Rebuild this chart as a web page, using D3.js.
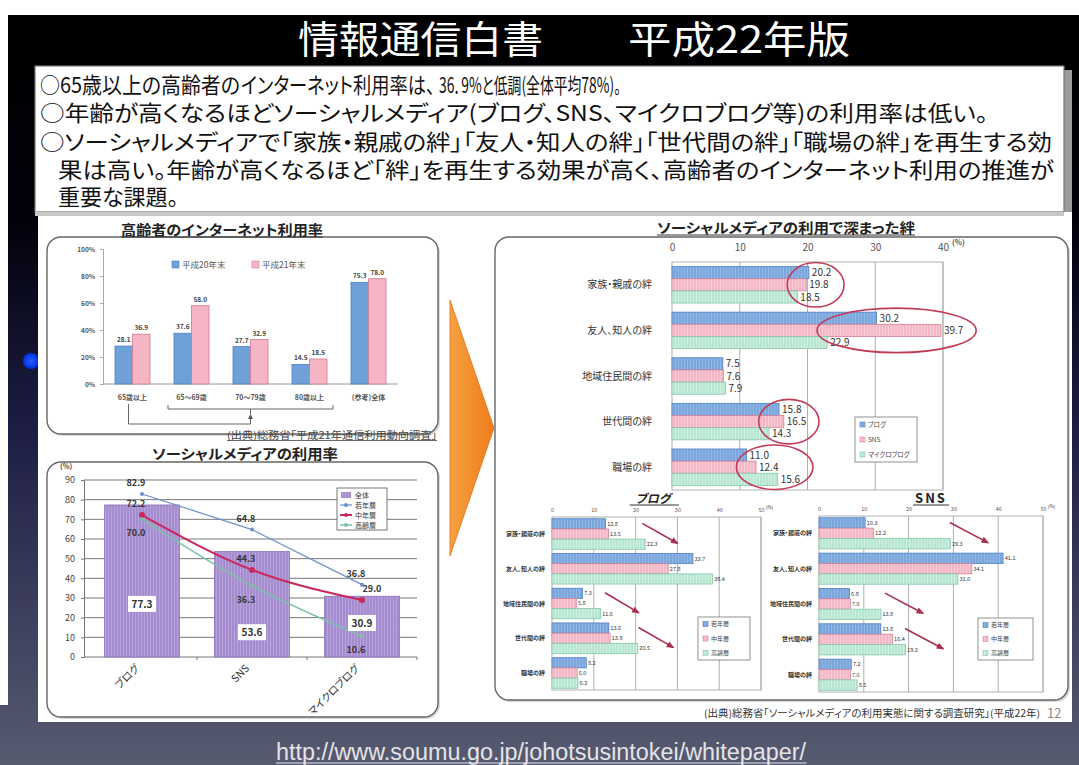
<!DOCTYPE html>
<html><head><meta charset="utf-8">
<script src="https://cdn.jsdelivr.net/npm/d3@7/dist/d3.min.js"></script>
<style>
html,body{margin:0;padding:0;background:#fff;overflow:hidden;}
svg{display:block;}
text{font-family:"Noto Sans CJK JP","Noto Sans",sans-serif;font-feature-settings:"palt";}
</style></head><body>
<svg id="chart" width="1079" height="765"></svg>
<script>
// ---------------- data ----------------
const ageGroups = ["65歳以上", "65〜69歳", "70〜79歳", "80歳以上", "(参考)全体"];
const netSeries = ["平成20年末", "平成21年末"];
const netH20 = [28.1, 37.6, 27.7, 14.5, 75.3];
const netH21 = [36.9, 58.0, 32.9, 18.5, 78.0];
const netTicks = [0, 20, 40, 60, 80, 100];

const mediaTypes = ["ブログ", "SNS", "マイクロブログ"];
const mediaSeries = ["全体", "若年層", "中年層", "高齢層"];
const mediaAll = [77.3, 53.6, 30.9];
const mediaYoung = [82.9, 64.8, 36.8];
const mediaMiddle = [72.2, 44.3, 29.0];
const mediaSenior = [70.0, 36.3, 10.6];
const mediaTicks = [0, 10, 20, 30, 40, 50, 60, 70, 80, 90];

const bondCats = ["家族・親戚の絆", "友人、知人の絆", "地域住民間の絆", "世代間の絆", "職場の絆"];
const bondSeries = ["ブログ", "SNS", "マイクロブログ"];
const bondBlog = [20.2, 30.2, 7.5, 15.8, 11.0];
const bondSNS = [19.8, 39.7, 7.6, 16.5, 12.4];
const bondMicro = [18.5, 22.9, 7.9, 14.3, 15.6];
const bondTicks = [0, 10, 20, 30, 40];

const ageSeries = ["若年層", "中年層", "高齢層"];
const blogYoung = [12.8, 33.7, 7.3, 13.6, 8.2];
const blogMiddle = [13.5, 27.8, 5.8, 13.9, 6.0];
const blogSenior = [22.3, 38.4, 11.6, 20.5, 6.2];
const snsYoung = [10.3, 41.1, 6.8, 13.8, 7.2];
const snsMiddle = [12.2, 34.1, 7.0, 16.4, 7.0];
const snsSenior = [29.3, 31.0, 13.8, 19.3, 8.5];
const subTicks = [0, 10, 20, 30, 40, 50];

// annotation: categories circled in the main chart, arrows in sub charts (data units)
const circledCats = ["家族・親戚の絆", "友人、知人の絆", "世代間の絆", "職場の絆"];
const blogArrows = [["家族・親戚の絆", 21.6, 30], ["地域住民間の絆", 12.7, 20.7], ["世代間の絆", 20.7, 29]];
const snsArrows = [["家族・親戚の絆", 29.2, 37.7], ["地域住民間の絆", 14.7, 23.2], ["世代間の絆", 19.2, 27.7]];
const mediaAllLabelAt = [27, 12.6, 17.3];

// ---------------- helpers ----------------
const FONT = '"Noto Sans CJK JP","Noto Sans",sans-serif';
const svg = d3.select("#chart");
const defs = svg.append("defs");
const fmt = d3.format(".1f");

function txt(p, x, y, s, o = {}) {
  const t = p.append("text").attr("x", x).attr("y", y).text(s);
  for (const k in o) t.attr(k, o[k]);
  return t;
}
function uline(p, t, dy, color, w, ext = 0) {
  const b = t.node().getBBox();
  p.append("line").attr("x1", b.x - ext).attr("x2", b.x + b.width + ext)
    .attr("y1", +t.attr("y") + dy).attr("y2", +t.attr("y") + dy)
    .attr("stroke", color).attr("stroke-width", w);
}
function stripe(id, base, line) {
  const p = defs.append("pattern").attr("id", id).attr("width", 3).attr("height", 10)
    .attr("patternUnits", "userSpaceOnUse");
  p.append("rect").attr("width", 3).attr("height", 10).attr("fill", base);
  p.append("rect").attr("width", 1).attr("height", 10).attr("fill", line);
}
stripe("pBlue", "#7aa6dc", "#92b8e6");
stripe("pPink", "#f4b7c5", "#f9cdd7");
stripe("pGreen", "#b7e6d2", "#d0f0e2");
stripe("pPurple", "#a58cce", "#b8a2dc");

// ---------------- slide background ----------------
const bg = defs.append("linearGradient").attr("id", "bg").attr("x1", 0).attr("y1", 0).attr("x2", 0).attr("y2", 1);
[[0, "#000000"], [0.28, "#02020c"], [0.55, "#1d1d44"], [1, "#575b70"]].forEach(([o, c]) =>
  bg.append("stop").attr("offset", o).attr("stop-color", c));
svg.append("rect").attr("width", 1079).attr("height", 765).attr("fill", "#fff");
svg.append("rect").attr("x", 0).attr("y", 15).attr("width", 1079).attr("height", 750).attr("fill", "url(#bg)");
svg.append("rect").attr("x", 0).attr("y", 15).attr("width", 8).attr("height", 690).attr("fill", "#fff");

// blue dot
const dotG = defs.append("radialGradient").attr("id", "dotg");
dotG.append("stop").attr("offset", 0).attr("stop-color", "#2a5cff");
dotG.append("stop").attr("offset", 1).attr("stop-color", "#0030e0");
svg.append("circle").attr("cx", 31).attr("cy", 361).attr("r", 8).attr("fill", "url(#dotg)");

// title
txt(svg, 298, 53, "情報通信白書", { "font-size": 38, fill: "#fff", textLength: 245, lengthAdjust: "spacingAndGlyphs" });
txt(svg, 628, 53, "平成22年版", { "font-size": 38, fill: "#fff", textLength: 222, lengthAdjust: "spacingAndGlyphs" });

// text box
svg.append("rect").attr("x", 41).attr("y", 70).attr("width", 1031).attr("height", 146).attr("fill", "#9a9a9a");
svg.append("rect").attr("x", 35).attr("y", 66).attr("width", 1029).attr("height", 146).attr("fill", "#fff")
  .attr("stroke", "#777").attr("stroke-width", 1.2);
// line 1 in runs (the original font sets digits and punctuation narrowly)
const line1Runs = [
  [40, "○65歳以上の高齢者の", 200, 22],
  [241, "インターネット利用率は、", 194, 22],
  [439, "36．9%と低調(全体平均78%)。", 182, 21]
];
line1Runs.forEach(([x, s, L, fs]) =>
  txt(svg, x, 93, s, { "font-size": fs, fill: "#111", textLength: L, lengthAdjust: "spacingAndGlyphs" }));
const boxLines = [
  [40, 121, "○年齢が高くなるほどソーシャルメディア(ブログ、SNS、マイクロブログ等)の利用率は低い。", 948],
  [40, 150, "○ソーシャルメディアで「家族・親戚の絆」「友人・知人の絆」「世代間の絆」「職場の絆」を再生する効", 1012],
  [58, 178, "果は高い。年齢が高くなるほど「絆」を再生する効果が高く、高齢者のインターネット利用の推進が", 996],
  [58, 205, "重要な課題。", null]
];
boxLines.forEach(([x, y, s, L]) => {
  const o = { "font-size": 22, fill: "#111" };
  if (L) { o.textLength = L; o.lengthAdjust = "spacingAndGlyphs"; }
  txt(svg, x, y, s, o);
});

// white picture area
svg.append("rect").attr("x", 38).attr("y", 212).attr("width", 1034).attr("height", 510).attr("fill", "#fff");
svg.append("rect").attr("x", 35).attr("y", 212).attr("width", 1029).attr("height", 4).attr("fill", "#c8c8c8");

// orange arrow
const og = defs.append("linearGradient").attr("id", "og").attr("x1", 0).attr("y1", 0).attr("x2", 1).attr("y2", 0);
og.append("stop").attr("offset", 0).attr("stop-color", "#f7a040");
og.append("stop").attr("offset", 1).attr("stop-color", "#ee7c1c");
svg.append("path").attr("d", "M450,300 L494,428 L450,556 Z").attr("fill", "url(#og)").attr("stroke", "#e07018").attr("stroke-width", 0.8);

// ---------------- chart boxes ----------------
function box(x, y, w, h) {
  svg.append("rect").attr("x", x + 2).attr("y", y + 2).attr("width", w).attr("height", h).attr("rx", 14)
    .attr("fill", "#d8d8d8");
  svg.append("rect").attr("x", x).attr("y", y).attr("width", w).attr("height", h).attr("rx", 14)
    .attr("fill", "#fff").attr("stroke", "#666").attr("stroke-width", 1.4);
}
box(47, 237, 391, 197);
box(47, 462, 391, 255);
box(495, 237, 573, 463);

// ---------------- chart 1: internet usage ----------------
{
  const g = svg.append("g");
  const t = txt(g, 222, 235, "高齢者のインターネット利用率", { "font-size": 14, "font-weight": "bold", fill: "#222", "text-anchor": "middle", textLength: 202, lengthAdjust: "spacingAndGlyphs" });
  uline(svg, t, 2, "#333", 1);
  const x = d3.scaleBand().domain(ageGroups).range([103, 398]);
  const xs = d3.scaleBand().domain([0, 1]).range([0, 35]);
  const y = d3.scaleLinear().domain([0, 100]).range([384, 249]);
  const ay = g.append("g").attr("transform", "translate(103,0)")
    .call(d3.axisLeft(y).tickValues(netTicks).tickFormat(d => d + "%").tickSize(3).tickPadding(5));
  ay.select(".domain").attr("stroke", "#aaa");
  ay.selectAll("line").attr("stroke", "#aaa");
  ay.selectAll("text").attr("font-family", FONT).attr("font-size", 6.5).attr("font-weight", "bold").attr("fill", "#555");
  g.append("line").attr("x1", 103).attr("x2", 398).attr("y1", y(0)).attr("y2", y(0)).attr("stroke", "#999");
  const series = [netH20, netH21];
  const fills = ["#6fa1d8", "#f5b5c5"];
  const strokes = ["#4c7fc2", "#d27b93"];
  series.forEach((vals, i) => {
    g.selectAll(null).data(ageGroups).join("rect")
      .attr("x", c => x(c) + x.bandwidth() / 2 - 17.5 + xs(i))
      .attr("y", (c, j) => y(vals[j]))
      .attr("width", xs.bandwidth())
      .attr("height", (c, j) => y(0) - y(vals[j]))
      .attr("fill", fills[i]).attr("stroke", strokes[i]).attr("stroke-width", 0.8);
    g.selectAll(null).data(ageGroups).join("text")
      .attr("x", c => x(c) + x.bandwidth() / 2 - 17.5 + xs(i) + xs.bandwidth() / 2)
      .attr("y", (c, j) => y(vals[j]) - 4)
      .attr("text-anchor", "middle").attr("font-size", 6.5).attr("font-weight", "bold").attr("fill", "#444")
      .text((c, j) => fmt(vals[j]));
  });
  g.selectAll(null).data(ageGroups).join("text")
    .attr("x", c => x(c) + x.bandwidth() / 2).attr("y", 400)
    .attr("text-anchor", "middle").attr("font-size", 7).attr("font-weight", "bold").attr("fill", "#555")
    .text(c => c);
  // legend
  netSeries.forEach((s, i) => {
    const lx = 172 + i * 80;
    g.append("rect").attr("x", lx).attr("y", 261).attr("width", 7).attr("height", 7).attr("fill", fills[i]).attr("stroke", strokes[i]).attr("stroke-width", 0.6);
    txt(g, lx + 10, 268, s, { "font-size": 8.5, fill: "#555" });
  });
  // brackets
  const bx0 = x(ageGroups[1]) + 6, bx1 = x(ageGroups[3]) + x.bandwidth() - 6;
  const bc = (bx0 + bx1) / 2;
  const a0 = x(ageGroups[0]) + x.bandwidth() / 2 - 4;
  g.append("path").attr("d", `M${bx0},405 L${bx0},409 L${bx1},409 L${bx1},405 M${bc},409 L${bc},414`)
    .attr("fill", "none").attr("stroke", "#666").attr("stroke-width", 1);
  g.append("path").attr("d", `M${a0},404 L${a0},424 L${bc},424 L${bc},417`)
    .attr("fill", "none").attr("stroke", "#666").attr("stroke-width", 1);
  g.append("path").attr("d", `M${bc - 2.5},419 L${bc},414 L${bc + 2.5},419 Z`).attr("fill", "#555");
  const s1 = txt(svg, 227, 439, "(出典)総務省「平成21年通信利用動向調査」", { "font-size": 10, fill: "#444", textLength: 210, lengthAdjust: "spacingAndGlyphs" });
  uline(svg, s1, 1.5, "#444", 0.8);
}

// ---------------- chart 2: social media usage ----------------
{
  const g = svg.append("g");
  txt(g, 245, 459, "ソーシャルメディアの利用率", { "font-size": 14, "font-weight": "bold", fill: "#222", "text-anchor": "middle", textLength: 186, lengthAdjust: "spacingAndGlyphs" });
  const x = d3.scaleBand().domain(mediaTypes).range([87, 417]).paddingInner(0.32).paddingOuter(0.16);
  const y = d3.scaleLinear().domain([0, 90]).range([657, 480]);
  g.selectAll(null).data(mediaTicks).join("line")
    .attr("x1", 84).attr("x2", 417).attr("y1", d => y(d)).attr("y2", d => y(d))
    .attr("stroke", "#777").attr("stroke-width", 1);
  const ay = g.append("g").attr("transform", "translate(84,0)")
    .call(d3.axisLeft(y).tickValues(mediaTicks).tickSize(3).tickPadding(6));
  ay.select(".domain").attr("stroke", "#777");
  ay.selectAll("line").attr("stroke", "#777");
  ay.selectAll("text").attr("font-family", FONT).attr("font-size", 9).attr("fill", "#444");
  txt(g, 60, 469, "(%)", { "font-size": 7, fill: "#444", "font-weight": "bold" });
  g.selectAll(null).data(mediaTypes).join("line")
    .attr("x1", c => x(c) + x.bandwidth() + (x.step() - x.bandwidth()) / 2)
    .attr("x2", c => x(c) + x.bandwidth() + (x.step() - x.bandwidth()) / 2)
    .attr("y1", y(0)).attr("y2", y(0) + 3).attr("stroke", "#777");
  // bars
  g.selectAll(null).data(mediaTypes).join("rect")
    .attr("x", c => x(c)).attr("y", (c, j) => y(mediaAll[j]))
    .attr("width", x.bandwidth()).attr("height", (c, j) => y(0) - y(mediaAll[j]))
    .attr("fill", "url(#pPurple)").attr("stroke", "#8a70b8").attr("stroke-width", 0.8);
  // lines
  const lineDefs = [
    { vals: mediaYoung, color: "#6b8fcb", w: 1.2, curve: d3.curveLinear, dy: -8, r: 2 },
    { vals: mediaMiddle, color: "#c8285a", w: 2, curve: d3.curveMonotoneX, dy: -8, r: 3 },
    { vals: mediaSenior, color: "#7cc2a6", w: 1.5, curve: d3.curveMonotoneX, dy: 17, r: 2 }
  ];
  lineDefs.forEach(L => {
    const ln = d3.line().x((v, j) => x(mediaTypes[j]) + x.bandwidth() / 2).y(v => y(v)).curve(L.curve);
    g.append("path").attr("d", ln(L.vals)).attr("fill", "none").attr("stroke", L.color).attr("stroke-width", L.w);
    g.selectAll(null).data(L.vals).join("circle")
      .attr("cx", (v, j) => x(mediaTypes[j]) + x.bandwidth() / 2).attr("cy", v => y(v))
      .attr("r", L.r).attr("fill", L.color);
  });
  lineDefs.forEach(L => {
    g.selectAll(null).data(L.vals).join("text")
      .attr("x", (v, j) => x(mediaTypes[j]) + x.bandwidth() / 2 - 6 + (j === 2 && L.dy < 0 && L.w > 1.5 ? 16 : 0))
      .attr("y", v => y(v) + L.dy)
      .attr("text-anchor", "middle").attr("font-size", 9).attr("font-weight", "bold").attr("fill", "#333")
      .text(v => fmt(v));
  });
  // all labels in white boxes
  mediaAll.forEach((v, j) => {
    const cx = x(mediaTypes[j]) + x.bandwidth() / 2, cy = y(mediaAllLabelAt[j]);
    g.append("rect").attr("x", cx - 14).attr("y", cy - 8).attr("width", 28).attr("height", 16).attr("fill", "#fff");
    txt(g, cx, cy + 4, fmt(v), { "font-size": 10, "font-weight": "bold", fill: "#333", "text-anchor": "middle" });
  });
  // x labels rotated
  g.selectAll(null).data(mediaTypes).join("text")
    .attr("transform", c => `translate(${x(c) + x.bandwidth() / 2 - 2},${y(0) + 12}) rotate(-45)`)
    .attr("text-anchor", "end").attr("font-size", 10.5).attr("fill", "#333").text(c => c);
  // legend
  g.append("rect").attr("x", 337).attr("y", 488).attr("width", 50).attr("height", 42).attr("fill", "#fff").attr("stroke", "#555").attr("stroke-width", 0.8);
  mediaSeries.forEach((s, i) => {
    const ly = 495 + i * 10;
    if (i === 0) {
      g.append("rect").attr("x", 341).attr("y", ly - 3).attr("width", 10).attr("height", 6).attr("fill", "url(#pPurple)");
    } else {
      const L = lineDefs[i - 1];
      g.append("line").attr("x1", 340).attr("x2", 352).attr("y1", ly).attr("y2", ly).attr("stroke", L.color).attr("stroke-width", L.w);
      g.append("circle").attr("cx", 346).attr("cy", ly).attr("r", 2).attr("fill", L.color);
    }
    txt(g, 355, ly + 3, s, { "font-size": 7, fill: "#333" });
  });
}

// ---------------- horizontal bar charts ----------------
function hbars(o) {
  const g = svg.append("g");
  const x = d3.scaleLinear().domain([0, o.max]).range([o.x0, o.x1]);
  const y = d3.scaleBand().domain(o.cats).range([o.y0, o.y1]).paddingInner(o.pi).paddingOuter(o.po);
  const ys = d3.scaleBand().domain(d3.range(o.series.length)).range([0, y.bandwidth()]);
  g.selectAll(null).data(o.ticks.slice(1)).join("line")
    .attr("x1", d => x(d)).attr("x2", d => x(d)).attr("y1", o.y0).attr("y2", o.y1)
    .attr("stroke", "#b0b0b0").attr("stroke-width", 1);
  g.append("rect").attr("x", o.x0).attr("y", o.y0).attr("width", o.x1 - o.x0).attr("height", o.y1 - o.y0)
    .attr("fill", "none").attr("stroke", "#b0b0b0");
  const ax = g.append("g").attr("transform", `translate(0,${o.tickY})`)
    .call(d3.axisTop(x).tickValues(o.ticks).tickSize(0).tickPadding(0));
  ax.select(".domain").remove();
  ax.selectAll("text").attr("font-family", FONT).attr("font-size", o.tickFont).attr("fill", "#555");
  txt(g, x(o.max) + o.tickFont * 0.9, o.tickY - o.tickFont * 0.6, "(%)", { "font-size": o.tickFont * 0.75, fill: "#555", "font-weight": "bold" });
  o.series.forEach((vals, i) => {
    g.selectAll(null).data(o.cats).join("rect")
      .attr("x", x(0)).attr("y", c => y(c) + ys(i))
      .attr("width", (c, j) => x(vals[j]) - x(0)).attr("height", ys.bandwidth())
      .attr("fill", `url(#${o.pats[i]})`).attr("stroke", o.strokes[i]).attr("stroke-width", 0.8);
    g.selectAll(null).data(o.cats).join("text")
      .attr("x", (c, j) => x(vals[j]) + o.valFont * 0.3)
      .attr("y", c => y(c) + ys(i) + ys.bandwidth() / 2 + o.valFont * 0.36)
      .attr("font-size", o.valFont).attr("fill", "#333")
      .text((c, j) => fmt(vals[j]));
  });
  g.selectAll(null).data(o.cats).join("text")
    .attr("x", o.catX).attr("y", c => y(c) + y.bandwidth() / 2 + o.catFont * 0.35)
    .attr("text-anchor", "end").attr("font-size", o.catFont).attr("font-weight", o.catWeight || "normal").attr("fill", "#333")
    .text(c => c);
  // legend
  const lg = o.legend;
  g.append("rect").attr("x", lg.x).attr("y", lg.y).attr("width", lg.w).attr("height", lg.h).attr("fill", "#fff").attr("stroke", "#777").attr("stroke-width", 0.8);
  o.names.forEach((s, i) => {
    const ly = lg.y + lg.h * (i + 0.5) / o.names.length;
    g.append("rect").attr("x", lg.x + 5).attr("y", ly - 2.5).attr("width", 5).attr("height", 5)
      .attr("fill", `url(#${o.pats[i]})`).attr("stroke", o.strokes[i]).attr("stroke-width", 0.6);
    txt(g, lg.x + 13, ly + lg.font * 0.35, s, { "font-size": lg.font, fill: "#444" });
  });
  return { g, x, y, vals: o.series };
}

const pats = ["pBlue", "pPink", "pGreen"];
const strokes = ["#4f80c4", "#d68197", "#86c7ab"];

// main bond chart
{
  const t = txt(svg, 786, 233, "ソーシャルメディアの利用で深まった絆", { "font-size": 14, "font-weight": "bold", fill: "#222", "text-anchor": "middle", textLength: 258, lengthAdjust: "spacingAndGlyphs" });
  uline(svg, t, 2, "#333", 1);
  const c = hbars({
    cats: bondCats, series: [bondBlog, bondSNS, bondMicro], names: bondSeries, pats, strokes,
    max: 40, x0: 672, x1: 943, y0: 262, y1: 490, pi: 0.2, po: 0.1, ticks: bondTicks,
    tickY: 251, tickFont: 10, valFont: 10, catX: 652, catFont: 10,
    legend: { x: 855, y: 417, w: 62, h: 45, font: 6.5 }
  });
  circledCats.forEach(cat => {
    const j = bondCats.indexOf(cat);
    const vs = c.vals.map(a => a[j]);
    const lo = c.x(d3.min(vs) - 1.5), hi = c.x(d3.max(vs) + 5.2);
    const top = c.y(cat) - 4, bot = c.y(cat) + c.y.bandwidth() + 4;
    svg.append("ellipse").attr("cx", (lo + hi) / 2).attr("cy", (top + bot) / 2)
      .attr("rx", (hi - lo) / 2).attr("ry", (bot - top) / 2)
      .attr("fill", "none").attr("stroke", "#c23a55").attr("stroke-width", 1.6);
  });
}

// arrow marker
defs.append("marker").attr("id", "ah").attr("viewBox", "0 0 10 10").attr("refX", 8).attr("refY", 5)
  .attr("markerWidth", 5).attr("markerHeight", 5).attr("orient", "auto")
  .append("path").attr("d", "M0,1 L10,5 L0,9 Z").attr("fill", "#a8304e");

function arrows(c, list) {
  list.forEach(([cat, a, b]) => {
    const top = c.y(cat), bw = c.y.bandwidth();
    c.g.append("line").attr("x1", c.x(a)).attr("x2", c.x(b))
      .attr("y1", top + bw * 0.15).attr("y2", top + bw * 0.8)
      .attr("stroke", "#a8304e").attr("stroke-width", 1.6).attr("marker-end", "url(#ah)");
  });
}

// blog sub chart
{
  const t = txt(svg, 653, 503, "ブログ", { "font-size": 12, "font-weight": "bold", "font-style": "italic", fill: "#222", "text-anchor": "middle" });
  uline(svg, t, 2, "#333", 1, 6);
  const c = hbars({
    cats: bondCats, series: [blogYoung, blogMiddle, blogSenior], names: ageSeries, pats, strokes,
    max: 50, x0: 552, x1: 761, y0: 517, y1: 690, pi: 0.12, po: 0.05, ticks: subTicks,
    tickY: 512, tickFont: 5.5, valFont: 5.5, catX: 545, catFont: 6, catWeight: "bold",
    legend: { x: 698, y: 617, w: 52, h: 43, font: 6 }
  });
  arrows(c, blogArrows);
}

// SNS sub chart
{
  const t = txt(svg, 931, 503, "SNS", { "font-size": 13, "font-weight": "bold", fill: "#222", "text-anchor": "middle", "letter-spacing": 2 });
  uline(svg, t, 2, "#333", 1, 2);
  const c = hbars({
    cats: bondCats, series: [snsYoung, snsMiddle, snsSenior], names: ageSeries, pats, strokes,
    max: 50, x0: 819, x1: 1043, y0: 516, y1: 692, pi: 0.12, po: 0.05, ticks: subTicks,
    tickY: 511, tickFont: 5.5, valFont: 5.5, catX: 812, catFont: 6, catWeight: "bold",
    legend: { x: 978, y: 618, w: 55, h: 42, font: 6 }
  });
  arrows(c, snsArrows);
}

// sources & url
txt(svg, 1040, 717, "(出典)総務省「ソーシャルメディアの利用実態に関する調査研究」(平成22年)", { "font-size": 10, fill: "#333", "text-anchor": "end", textLength: 336, lengthAdjust: "spacingAndGlyphs" });
txt(svg, 1047, 718, "12", { "font-size": 13, fill: "#888" });
const url = txt(svg, 276, 760, "http://www.soumu.go.jp/johotsusintokei/whitepaper/", { "font-size": 23, fill: "#e4e4e8", textLength: 530, lengthAdjust: "spacingAndGlyphs", style: "font-family:'Liberation Sans Narrow','Liberation Sans',sans-serif" });
uline(svg, url, 3, "#e4e4e8", 1.2);
</script>
</body></html>
